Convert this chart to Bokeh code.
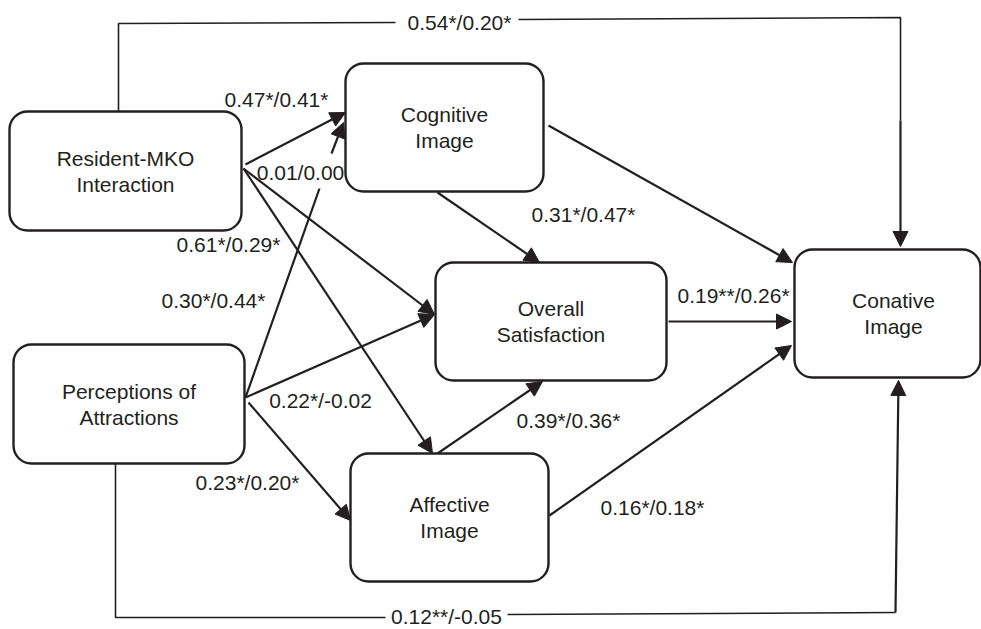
from bokeh.plotting import figure
from bokeh.models import Range1d, BoxAnnotation, Arrow, NormalHead
from bokeh.core.properties import value
from bokeh.embed import file_html
from bokeh.resources import INLINE

# ---------------- data ----------------
node_ids = ["RMI", "COG", "SAT", "CON", "PER", "AFF"]
node_line1 = ["Resident-MKO", "Cognitive", "Overall", "Conative", "Perceptions of", "Affective"]
node_line2 = ["Interaction", "Image", "Satisfaction", "Image", "Attractions", "Image"]

edge_from = ["RMI", "PER", "RMI", "PER", "RMI", "PER", "COG", "COG", "SAT", "AFF", "AFF", "RMI", "PER"]
edge_to = ["COG", "COG", "SAT", "SAT", "AFF", "AFF", "SAT", "CON", "CON", "SAT", "CON", "CON", "CON"]
edge_coef = ["0.47*/0.41*", "0.01/0.00", "0.61*/0.29*", "0.22*/-0.02", "0.30*/0.44*", "0.23*/0.20*",
             "0.31*/0.47*", "", "0.19**/0.26*", "0.39*/0.36*", "0.16*/0.18*", "0.54*/0.20*", "0.12**/-0.05"]

# ---------------- layout (image pixel coords, y down) ----------------
W, H = 981, 629
box = {  # left, right, top, bottom
    "RMI": (9, 241, 111, 230),
    "COG": (345, 543, 63, 191),
    "SAT": (435, 666, 262, 380),
    "CON": (794, 980, 249, 377),
    "PER": (13, 244, 344, 463),
    "AFF": (350, 548, 453, 581),
}
# straight arrow geometry: start, end, label pos
straight = {
    ("RMI", "COG"): ((245, 164), (345, 112), (276, 99)),
    ("PER", "COG"): ((245, 397), (343, 122), (300, 172)),
    ("RMI", "SAT"): ((243, 168), (434, 314), (228, 244)),
    ("PER", "SAT"): ((245, 397), (434, 314), (320, 400)),
    ("RMI", "AFF"): ((243, 168), (432, 453), (213, 300)),
    ("PER", "AFF"): ((248, 402), (350, 520), (247, 482)),
    ("COG", "SAT"): ((437, 192), (539, 262), (583, 214)),
    ("COG", "CON"): ((548, 125), (792, 262), None),
    ("SAT", "CON"): ((668, 321), (791, 321), (733, 295)),
    ("AFF", "SAT"): ((437, 453), (542, 381), (568, 420)),
    ("AFF", "CON"): ((549, 515), (791, 345), (652, 507)),
}
# label gap on PER->COG line
gap_split = ((319, 188), (331, 153))

def Y(y):
    return H - y

p = figure(width=W, height=H, output_backend="svg", toolbar_location=None,
           x_range=Range1d(0, W), y_range=Range1d(0, H),
           min_border=0)
p.axis.visible = False
p.grid.visible = False
p.outline_line_color = None
p.background_fill_color = "white"
p.border_fill_color = "white"

FONT = value("Liberation Sans")
TXT = "#231f20"
LW = 2.2

# boxes
for nid in node_ids:
    l, r, t, b = box[nid]
    p.add_layout(BoxAnnotation(left=l, right=r, top=Y(t), bottom=Y(b),
                               fill_color="white", fill_alpha=1.0,
                               line_color="#231f20", line_alpha=1.0, line_width=2.4,
                               border_radius=18, level="underlay"))

# node labels
nx, ny, nt = [], [], []
for nid, a, b in zip(node_ids, node_line1, node_line2):
    l, r, t, bt = box[nid]
    cx = (l + r) / 2
    cy = (t + bt) / 2
    if nid == "CON":
        cx = 893
    nx += [cx, cx]
    ny += [Y(cy - 13), Y(cy + 13)]
    nt += [a, b]
p.text(x=nx, y=ny, text=nt, text_font=FONT, text_font_size="21px",
       text_align="center", text_baseline="middle", text_color=TXT)

head = dict(size=15, fill_color="#231f20", line_color="#231f20", line_width=1)

lx, ly, lt = [], [], []
for f, t, c in zip(edge_from, edge_to, edge_coef):
    key = (f, t)
    if key in straight:
        (x0, y0), (x1, y1), lab = straight[key]
        if key == ("PER", "COG"):
            (ga, gb) = gap_split
            p.line([x0, ga[0]], [Y(y0), Y(ga[1])], line_color=TXT, line_width=LW)
            p.add_layout(Arrow(end=NormalHead(**head), x_start=gb[0], y_start=Y(gb[1]),
                               x_end=x1, y_end=Y(y1), line_color=TXT, line_width=LW))
        else:
            p.add_layout(Arrow(end=NormalHead(**head), x_start=x0, y_start=Y(y0),
                               x_end=x1, y_end=Y(y1), line_color=TXT, line_width=LW))
        if lab is not None and c:
            lx.append(lab[0]); ly.append(Y(lab[1])); lt.append(c)
    elif key == ("RMI", "CON"):
        p.line([118, 118, 395], [Y(111), Y(23), Y(22)], line_color=TXT, line_width=1.6)
        p.line([518, 900, 900], [Y(19), Y(17), Y(120)], line_color=TXT, line_width=1.6)
        p.add_layout(Arrow(end=NormalHead(**head), x_start=900, y_start=Y(120),
                           x_end=900, y_end=Y(246), line_color=TXT, line_width=LW))
        lx.append(459); ly.append(Y(22)); lt.append(c)
    elif key == ("PER", "CON"):
        p.line([115, 115, 385], [Y(463), Y(617), Y(617)], line_color=TXT, line_width=1.6)
        p.line([507, 895], [Y(614), Y(612)], line_color=TXT, line_width=1.6)
        p.add_layout(Arrow(end=NormalHead(**head), x_start=895, y_start=Y(612),
                           x_end=898, y_end=Y(380), line_color=TXT, line_width=LW))
        lx.append(446); ly.append(Y(616)); lt.append(c)

p.text(x=lx, y=ly, text=lt, text_font=FONT, text_font_size="21px",
       text_align="center", text_baseline="middle", text_color=TXT)

open("out.html", "w").write(file_html(p, INLINE))
